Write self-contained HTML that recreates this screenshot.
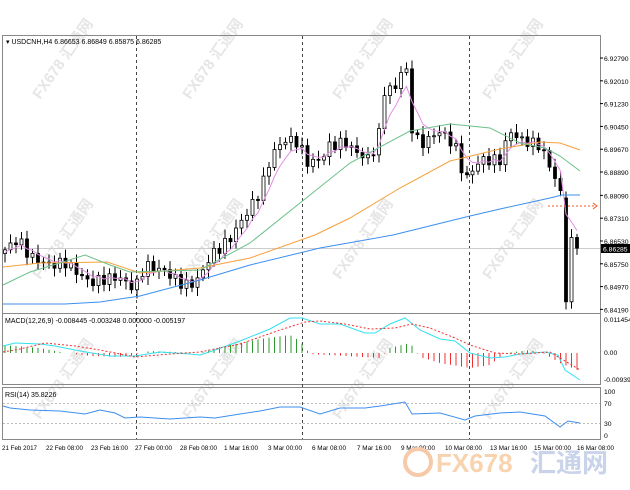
<!DOCTYPE html>
<html><head><meta charset="utf-8"><style>
body{margin:0;background:#fff;width:630px;height:490px;overflow:hidden}
svg{display:block;font-family:"Liberation Sans","Noto Sans CJK SC",sans-serif}
</style></head><body>
<svg id="s" width="630" height="490" viewBox="0 0 630 490" xmlns="http://www.w3.org/2000/svg">
<rect width="630" height="490" fill="#fff"/>
<g id="wm" fill="#e6e6e6" font-size="15" font-weight="bold">
<text transform="translate(40,100) rotate(-55)">FX678 汇通网</text>
<text transform="translate(190,100) rotate(-55)">FX678 汇通网</text>
<text transform="translate(340,100) rotate(-55)">FX678 汇通网</text>
<text transform="translate(490,100) rotate(-55)">FX678 汇通网</text>
<text transform="translate(40,280) rotate(-55)">FX678 汇通网</text>
<text transform="translate(190,280) rotate(-55)">FX678 汇通网</text>
<text transform="translate(340,280) rotate(-55)">FX678 汇通网</text>
<text transform="translate(490,280) rotate(-55)">FX678 汇通网</text>
<text transform="translate(40,420) rotate(-55)">FX678 汇通网</text>
<text transform="translate(190,420) rotate(-55)">FX678 汇通网</text>
<text transform="translate(340,420) rotate(-55)">FX678 汇通网</text>
<text transform="translate(490,420) rotate(-55)">FX678 汇通网</text>
</g>
<g fill="none" stroke="#888" stroke-width="1">
<rect x="2.5" y="35.5" width="598" height="278"/>
<rect x="2.5" y="313.5" width="598" height="71"/>
<rect x="2.5" y="387.5" width="598" height="52"/>
</g>
<g stroke="#444" stroke-dasharray="3,3" stroke-width="1">
<line x1="136.5" y1="36" x2="136.5" y2="439"/>
<line x1="302.5" y1="36" x2="302.5" y2="439"/>
<line x1="469.5" y1="36" x2="469.5" y2="439"/>
</g>
<line x1="3" y1="248.5" x2="600" y2="248.5" stroke="#ccc"/>
<g id="g"></g>
<g font-size="7" fill="#000">
<text x="6" y="44">▾ USDCNH,H4  6.86653 6.86849 6.85875 6.86285</text>
<text x="5" y="323">MACD(12,26,9) -0.008445 -0.003248 0.000000 -0.005197</text>
<text x="5" y="397">RSI(14) 35.8226</text>
</g>
<g font-size="6.8" fill="#000" id="ax"></g>
<rect x="601" y="244" width="29" height="9" fill="#000"/>
<text x="603" y="251.5" font-size="6.8" fill="#fff">6.86285</text>
<g font-size="6.8" fill="#000">
<text x="2" y="450" textLength="35" lengthAdjust="spacingAndGlyphs">21 Feb 2017</text>
<text x="46" y="450" textLength="37" lengthAdjust="spacingAndGlyphs">22 Feb 08:00</text>
<text x="91" y="450" textLength="37" lengthAdjust="spacingAndGlyphs">23 Feb 16:00</text>
<text x="135" y="450" textLength="37" lengthAdjust="spacingAndGlyphs">27 Feb 00:00</text>
<text x="180" y="450" textLength="37" lengthAdjust="spacingAndGlyphs">28 Feb 08:00</text>
<text x="224" y="450" textLength="34" lengthAdjust="spacingAndGlyphs">1 Mar 16:00</text>
<text x="268" y="450" textLength="34" lengthAdjust="spacingAndGlyphs">3 Mar 00:00</text>
<text x="312" y="450" textLength="34" lengthAdjust="spacingAndGlyphs">6 Mar 08:00</text>
<text x="357" y="450" textLength="34" lengthAdjust="spacingAndGlyphs">7 Mar 16:00</text>
<text x="401" y="450" textLength="34" lengthAdjust="spacingAndGlyphs">9 Mar 00:00</text>
<text x="445" y="450" textLength="37" lengthAdjust="spacingAndGlyphs">10 Mar 08:00</text>
<text x="490" y="450" textLength="37" lengthAdjust="spacingAndGlyphs">13 Mar 16:00</text>
<text x="534" y="450" textLength="37" lengthAdjust="spacingAndGlyphs">15 Mar 00:00</text>
<text x="577" y="450" textLength="37" lengthAdjust="spacingAndGlyphs">16 Mar 08:00</text>
</g>
<circle cx="418" cy="462" r="13" fill="none" stroke="#f6c9a8" stroke-width="4"/>
<text x="436" y="472" font-size="26" fill="#f8d3b0" font-weight="bold">FX678</text>
<text x="530" y="472" font-size="26" fill="#c9d3ea" font-weight="bold">汇通网</text>
</svg>
<script>
var g=document.getElementById('g'),ns='http://www.w3.org/2000/svg';
function el(t,a){var e=document.createElementNS(ns,t);for(var k in a)e.setAttribute(k,a[k]);g.appendChild(e);return e;}
function Y(p){return 58+(6.9279-p)/0.0078*22.8;}
var ax=document.getElementById('ax');
[6.9279,6.9201,6.9123,6.9045,6.8967,6.8889,6.8809,6.8731,6.8653,6.8575,6.8497,6.8419].forEach(function(p){
 var y=Y(p);var t=document.createElementNS(ns,'text');t.setAttribute('x',604);t.setAttribute('y',y+3);t.textContent=p.toFixed(5);ax.appendChild(t);
 el('line',{x1:600,x2:603,y1:y,y2:y,stroke:'#000'});});
[['0.011454',322],['0.00',355],['-0.009393',382],['100',394],['70',406],['30',426],['0',438]].forEach(function(a){var t=document.createElementNS(ns,'text');t.setAttribute('x',604);t.setAttribute('y',a[1]);t.textContent=a[0];ax.appendChild(t);});
var kp=[[4,6.862],[18,6.866],[30,6.860],[50,6.857],[65,6.858],[90,6.851],[100,6.852],[118,6.853],[135,6.849],[145,6.857],[165,6.855],[180,6.851],[190,6.850],[200,6.853],[210,6.860],[230,6.866],[245,6.874],[260,6.882],[272,6.895],[285,6.900],[300,6.899],[305,6.892],[320,6.893],[330,6.898],[345,6.899],[355,6.896],[370,6.893],[380,6.903],[385,6.918],[395,6.917],[405,6.928],[412,6.904],[420,6.898],[440,6.903],[455,6.898],[465,6.886],[480,6.893],[500,6.893],[510,6.903],[520,6.900],[540,6.898],[555,6.887],[562,6.880],[566,6.845],[572,6.866],[578,6.866],[582,6.8628]];
function interp(x,arr){for(var i=1;i<arr.length;i++){if(x<=arr[i][0]){var a=arr[i-1],b=arr[i];return a[1]+(b[1]-a[1])*(x-a[0])/(b[0]-a[0]);}}return arr[arr.length-1][1];}
var prev=6.861,ema=6.861,pts=[];
for(var i=0;i<105;i++){var x=5+i*5.5;var c=interp(x,kp)+Math.sin(i*2.7)*0.0018;if(i==104)c=6.86285;var o=prev;
 if(i==102){o=6.880;c=6.8445;}if(i==103){o=6.8445;c=6.8665;}
 var h=Math.max(o,c)+0.001+Math.abs(Math.sin(i*1.3))*0.002,l=Math.min(o,c)-0.001-Math.abs(Math.cos(i*1.7))*0.002;
 el('line',{x1:x,x2:x,y1:Y(h),y2:Y(l),stroke:'#000'});
 var yt=Y(Math.max(o,c)),yb=Y(Math.min(o,c));
 el('rect',{x:x-1.5,y:yt,width:3,height:Math.max(1,yb-yt),fill:c<o?'#000':'#fff',stroke:'#000','stroke-width':0.8});
 ema=ema+(c-ema)*0.33;pts.push(x+','+Y(ema).toFixed(1));prev=c;}
function pl(p,col,extra){var a={points:p,fill:'none',stroke:col,'stroke-width':1};for(var k in extra)a[k]=extra[k];el('polyline',a);}
pl(pts.join(' '),'#e58ee5');
pl('3,304 65,304 100,302 140,296 200,280 250,265 320,248 393,235 470,216 500,209 550,198 562,195 580,195','#3c8ff0');
pl('3,267 40,263 107,262 140,273 200,268 250,258 315,235 350,218 400,188 450,161 500,149 540,142 560,143 580,150','#f7a03c');
pl('3,285 30,272 60,263 85,255 110,265 130,272 200,270 250,243 300,203 350,163 410,131 450,124 490,128 520,143 545,148 560,156 580,171','#6cc08a');
pl('548,206 594,206','#f05a22',{'stroke-dasharray':'2,2'});
el('path',{d:'M593,203 L597,206 L593,209',fill:'none',stroke:'#f05a22'});
var hk=[[4,8],[40,5],[60,1],[90,-3],[120,-4],[135,-2],[150,2],[175,1],[200,0],[220,6],[260,14],[290,18],[300,12],[310,-1],[380,-5],[390,5],[410,10],[420,-4],[440,-10],[470,-15],[490,-12],[505,0],[530,3],[545,-1],[560,-10],[580,-18]];
for(var i=0;i<105;i++){var x=5+i*5.5,v=interp(x,hk);if(Math.abs(v)<0.5)continue;
 el('line',{x1:x,x2:x,y1:353,y2:353-v,stroke:v>0?'#2e9a2e':'#f03030'});}
pl('3,346 15,343 40,344 55,346 80,351 110,356 135,356 160,352 190,354 200,355 215,350 240,341 270,329 290,318 302,318 320,324 340,324 365,333 375,333 390,324 405,318 420,330 440,339 455,341 470,353 490,358 505,357 520,354 545,352 558,355 565,370 580,380','#33e0f0');
pl('3,352 20,349 45,343 75,346 100,350 135,357 170,354 200,352 240,344 280,330 305,322 320,321 345,324 370,329 395,328 412,324 430,328 455,338 470,345 495,353 520,354 550,352 580,370','#f03030',{'stroke-dasharray':'2,2'});
el('line',{x1:3,x2:600,y1:403.5,y2:403.5,stroke:'#bbb','stroke-dasharray':'2,2'});
el('line',{x1:3,x2:600,y1:423.5,y2:423.5,stroke:'#bbb','stroke-dasharray':'2,2'});
pl('3,406 10,408 30,410 60,411 85,414 100,410 115,413 125,418 140,417 170,419 185,418 200,417 215,418 240,414 260,411 280,407 300,407 320,414 340,408 365,408 380,406 405,402 412,414 440,413 465,420 475,416 500,413 520,412 545,416 560,427 568,421 580,423','#3c8ff0');
</script>
</body></html>
